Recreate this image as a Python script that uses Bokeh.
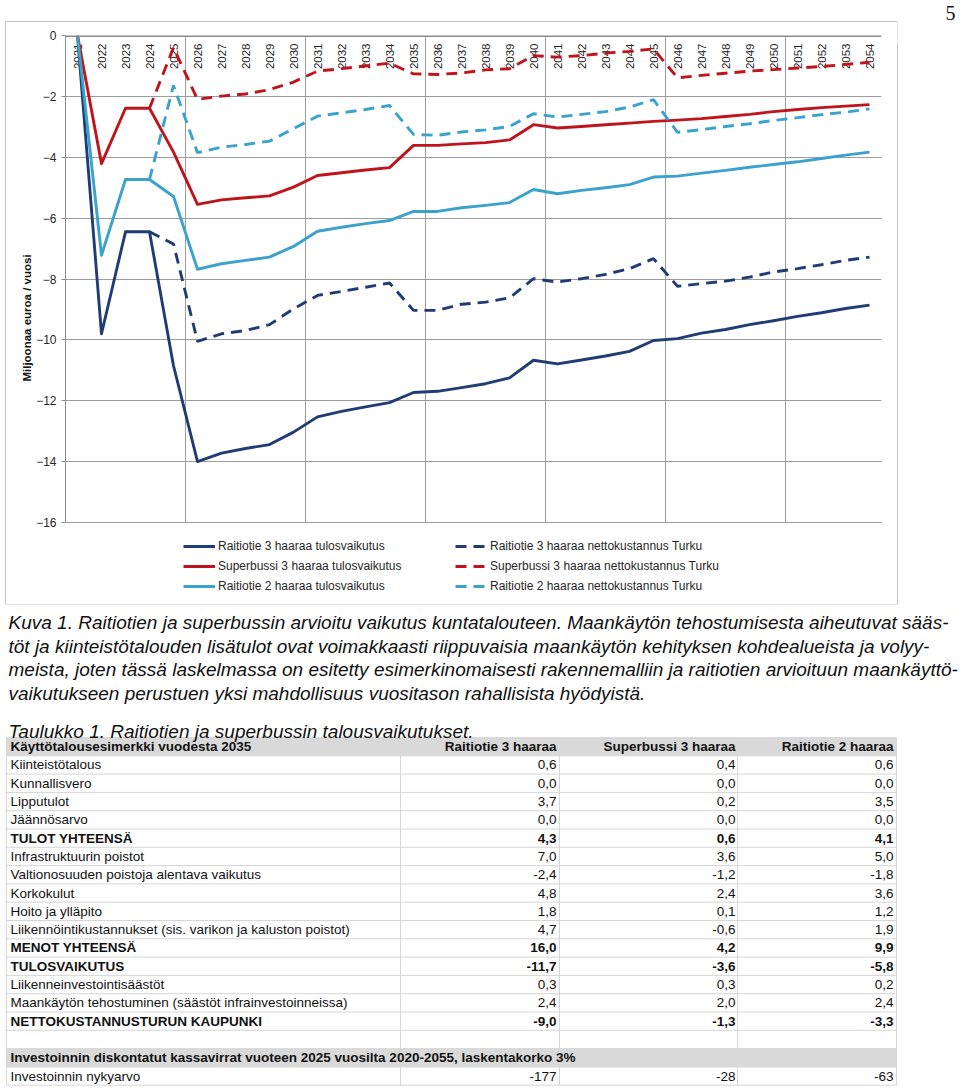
import numpy as np
from bokeh.plotting import figure
from bokeh.models import (Range1d, FixedTicker, Span, Legend, LegendItem, ColumnDataSource)
from bokeh.layouts import column, row
from bokeh.core.properties import value
from bokeh.embed import file_html
from bokeh.resources import INLINE

# ---------------- chart data ----------------
years = list(range(2021, 2055))
year_labels = [str(y) for y in years]
raitio3_tulos = [0.0, -9.8, -6.45, -6.45, -10.85, -14.0, -13.72, -13.57, -13.44, -13.03,
                 -12.53, -12.35, -12.2, -12.06, -11.73, -11.69, -11.57, -11.44, -11.25, -10.67,
                 -10.79, -10.66, -10.53, -10.38, -10.02, -9.96, -9.78, -9.66, -9.5, -9.37,
                 -9.23, -9.11, -8.97, -8.86]
superbussi3_tulos = [0.0, -4.21, -2.39, -2.39, -3.83, -5.55, -5.40, -5.33, -5.27, -4.98,
                     -4.6, -4.51, -4.42, -4.34, -3.61, -3.61, -3.56, -3.52, -3.43, -2.93,
                     -3.04, -2.99, -2.93, -2.88, -2.82, -2.78, -2.73, -2.66, -2.59, -2.5,
                     -2.43, -2.37, -2.32, -2.27]
raitio2_tulos = [0.0, -7.22, -4.73, -4.73, -5.29, -7.68, -7.5, -7.39, -7.28, -6.93,
                 -6.43, -6.3, -6.18, -6.08, -5.78, -5.78, -5.66, -5.58, -5.49, -5.06,
                 -5.2, -5.09, -5.0, -4.9, -4.65, -4.62, -4.52, -4.43, -4.33, -4.24,
                 -4.15, -4.04, -3.93, -3.83]
net_years = list(range(2024, 2055))
raitio3_netto = [-6.45, -6.85, -10.05, -9.8, -9.69, -9.5, -8.98, -8.54, -8.41, -8.27,
                 -8.13, -9.03, -9.03, -8.83, -8.76, -8.62, -7.99, -8.1, -7.99, -7.85,
                 -7.66, -7.33, -8.24, -8.15, -8.07, -7.94, -7.77, -7.66, -7.53, -7.39, -7.28]
superbussi3_netto = [-2.39, -0.4, -2.1, -1.99, -1.92, -1.78, -1.53, -1.17, -1.09, -1.0,
                     -0.91, -1.26, -1.28, -1.23, -1.13, -1.09, -0.66, -0.71, -0.66, -0.58,
                     -0.52, -0.44, -1.39, -1.31, -1.24, -1.17, -1.12, -1.07, -1.02, -0.95, -0.88]
raitio2_netto = [-4.73, -1.64, -3.85, -3.67, -3.58, -3.47, -3.06, -2.65, -2.54, -2.43,
                 -2.3, -3.25, -3.28, -3.17, -3.1, -2.99, -2.57, -2.68, -2.59, -2.5,
                 -2.35, -2.11, -3.18, -3.09, -2.99, -2.9, -2.79, -2.7, -2.6, -2.52, -2.41]
y_ticks = [0, -2, -4, -6, -8, -10, -12, -14, -16]
y_min, y_max = -16, 0
x_grid_ticks = [2025.5, 2030.5, 2035.5, 2040.5, 2045.5, 2050.5]

series_solid = [
    ("Raitiotie 3 haaraa tulosvaikutus", raitio3_tulos, "#1F3C74"),
    ("Superbussi 3 haaraa tulosvaikutus", superbussi3_tulos, "#C0141C"),
    ("Raitiotie 2 haaraa tulosvaikutus", raitio2_tulos, "#3AA2CB"),
]
series_dash = [
    ("Raitiotie 3 haaraa nettokustannus Turku", raitio3_netto, "#1F3C74"),
    ("Superbussi 3 haaraa nettokustannus Turku", superbussi3_netto, "#C0141C"),
    ("Raitiotie 2 haaraa nettokustannus Turku", raitio2_netto, "#3AA2CB"),
]

# ---------------- text / table data ----------------
page_number = "5"
caption_lines = [
    "Kuva 1. Raitiotien ja superbussin arvioitu vaikutus kuntatalouteen. Maankäytön tehostumisesta aiheutuvat sääs-",
    "töt ja kiinteistötalouden lisätulot ovat voimakkaasti riippuvaisia maankäytön kehityksen kohdealueista ja volyy-",
    "meista, joten tässä laskelmassa on esitetty esimerkinomaisesti rakennemalliin ja raitiotien arvioituun maankäyttö-",
    "vaikutukseen perustuen yksi mahdollisuus vuositason rahallisista hyödyistä.",
]
table_title = "Taulukko 1. Raitiotien ja superbussin talousvaikutukset."
table_header = "Käyttötalousesimerkki vuodesta 2035"
col_headers = ["Raitiotie 3 haaraa", "Superbussi 3 haaraa", "Raitiotie 2 haaraa"]
row_labels = ["Kiinteistötalous", "Kunnallisvero", "Lipputulot", "Jäännösarvo", "TULOT YHTEENSÄ",
              "Infrastruktuurin poistot", "Valtionosuuden poistoja alentava vaikutus", "Korkokulut",
              "Hoito ja ylläpito", "Liikennöintikustannukset (sis. varikon ja kaluston poistot)",
              "MENOT YHTEENSÄ", "TULOSVAIKUTUS", "Liikenneinvestointisäästöt",
              "Maankäytön tehostuminen (säästöt infrainvestoinneissa)", "NETTOKUSTANNUSTURUN KAUPUNKI"]
bold_rows = [4, 10, 11, 14]
col_raitio3 = [0.6, 0.0, 3.7, 0.0, 4.3, 7.0, -2.4, 4.8, 1.8, 4.7, 16.0, -11.7, 0.3, 2.4, -9.0]
col_superbussi3 = [0.4, 0.0, 0.2, 0.0, 0.6, 3.6, -1.2, 2.4, 0.1, -0.6, 4.2, -3.6, 0.3, 2.0, -1.3]
col_raitio2 = [0.6, 0.0, 3.5, 0.0, 4.1, 5.0, -1.8, 3.6, 1.2, 1.9, 9.9, -5.8, 0.2, 2.4, -3.3]
invest_header = "Investoinnin diskontatut kassavirrat vuoteen 2025 vuosilta 2020-2055, laskentakorko 3%"
invest_label = "Investoinnin nykyarvo"
invest_values = [-177, -28, -63]

FONT = "Liberation Sans"
GRID = "#9c9c9c"

# ---------------- chart figure (its canvas is the framed chart box) ----------------
PLOT_H = 487      # pixel height of the -16..0 value band
FRAME_H = 565     # frame also holds the legend strip below the plot band
y_lo = y_min * FRAME_H / PLOT_H

p = figure(width=891, height=582, x_range=Range1d(2020.5, 2054.5), y_range=Range1d(y_lo, y_max),
           min_border_left=59, min_border_right=16, min_border_top=13, min_border_bottom=4,
           x_axis_location=None, output_backend="svg", toolbar_location=None,
           frame_align=False, margin=(22, 0, 0, 6),
           styles={"outline": "1.5px solid #c4c4c4"})
p.outline_line_color = None
p.background_fill_color = "white"
p.border_fill_color = "white"

p.yaxis.bounds = (y_min, y_max)
p.yaxis.ticker = FixedTicker(ticks=y_ticks)
p.yaxis.axis_label = "Miljoonaa euroa / vuosi"
p.yaxis.axis_label_text_font = FONT
p.yaxis.axis_label_text_font_style = "bold"
p.yaxis.axis_label_text_font_size = "11.5px"
p.yaxis.axis_label_text_color = "#111111"
p.yaxis.axis_label_standoff = 0
p.yaxis.major_label_text_font = FONT
p.yaxis.major_label_text_font_size = "12px"
p.yaxis.major_label_text_color = "#262626"
p.yaxis.major_label_standoff = 5
p.yaxis.axis_line_color = "#8c8c8c"
p.yaxis.major_tick_line_color = "#8c8c8c"
p.yaxis.major_tick_out = 4
p.yaxis.major_tick_in = 0
p.yaxis.minor_tick_line_color = None

p.ygrid.ticker = FixedTicker(ticks=y_ticks)
p.ygrid.grid_line_color = GRID
p.xgrid.visible = False
# vertical gridlines every five categories, limited to the value band
p.segment(x0=x_grid_ticks, x1=x_grid_ticks, y0=[y_min] * len(x_grid_ticks),
          y1=[y_max] * len(x_grid_ticks), line_color=GRID, line_width=1)

p.add_layout(Span(location=y_max, dimension="width", line_color="#8c8c8c", line_width=3))

# year labels inside the plot, under the top axis line
p.text(x=years, y=[y_max] * len(years), text=year_labels, angle=np.pi / 2,
       text_align="right", text_baseline="middle", y_offset=8,
       text_font=value(FONT), text_font_size="11.5px", text_color="#262626")

solid_pairs = []
for name, vals, col in series_solid:
    r = p.line(years, vals, line_color=col, line_width=2.9, line_join="round")
    solid_pairs.append((name, r))
dash_pairs = []
for name, vals, col in series_dash:
    r = p.line(net_years, vals, line_color=col, line_width=2.9, line_dash="11 7")
    dash_pairs.append((name, r))

def make_legend(pairs, loc):
    return Legend(items=[LegendItem(label=n, renderers=[r]) for n, r in pairs],
                  location=loc, orientation="vertical", padding=0, margin=0, spacing=0,
                  glyph_width=32, glyph_height=20, label_height=20, label_standoff=3,
                  label_text_font=FONT, label_text_font_size="12px", label_text_color="#262626",
                  background_fill_alpha=0, border_line_color=None)

p.add_layout(make_legend(solid_pairs, (118, 4)), "center")
p.add_layout(make_legend(dash_pairs, (390, 4)), "center")

# ---------------- page number ----------------
pn = figure(width=63, height=44, x_range=Range1d(897, 960), y_range=Range1d(44, 0),
            min_border=0, x_axis_location=None, y_axis_location=None,
            output_backend="svg", toolbar_location=None, frame_align=False)
pn.outline_line_color = None
pn.grid.visible = False
pn.text(x=[955], y=[12], text=[page_number], text_align="right", text_baseline="middle",
        text_font=value("Liberation Serif"), text_font_size="20px", text_color="#111111")

# ---------------- page figure (caption + table) ----------------
q = figure(width=960, height=482, x_range=Range1d(0, 960), y_range=Range1d(1086, 604),
           min_border=0, x_axis_location=None, y_axis_location=None,
           output_backend="svg", toolbar_location=None, frame_align=False)
q.outline_line_color = None
q.grid.visible = False
q.background_fill_color = "white"
q.border_fill_color = "white"

row_h = 18.3
top0 = 737
n_rows = 19
tab_left, tab_right = 6, 896
col_div = [6, 400, 559, 737, 896]
num_x = [556, 735, 893]
bounds = [top0 + i * row_h for i in range(n_rows + 1)]
centers = [top0 + (i + 0.5) * row_h for i in range(n_rows)]

q.segment(x0=[tab_left] * len(bounds), x1=[tab_right] * len(bounds), y0=bounds, y1=bounds,
          line_color="#d6d6d6", line_width=1)
q.segment(x0=col_div, x1=col_div, y0=[bounds[0]] * len(col_div), y1=[bounds[-1]] * len(col_div),
          line_color="#d6d6d6", line_width=1)
gray_rows = [0, 17]
q.quad(left=[tab_left] * 2, right=[tab_right] * 2,
       top=[bounds[i] for i in gray_rows], bottom=[bounds[i + 1] for i in gray_rows],
       fill_color="#d9d9d9", line_color=None)

cap_base = [622, 645.5, 669, 692.5]
q.text(x=[8] * len(caption_lines), y=cap_base, text=caption_lines,
       text_align="left", text_baseline="alphabetic", text_font=value(FONT),
       text_font_style="italic", text_font_size="19px", text_color="#111111")
q.text(x=[8], y=[731], text=[table_title], text_align="left", text_baseline="alphabetic",
       text_font=value(FONT), text_font_style="italic", text_font_size="19px", text_color="#111111")

def fmt(v):
    return f"{v:.1f}".replace(".", ",")

norm_l = dict(x=[], y=[], t=[])
bold_l = dict(x=[], y=[], t=[])
norm_r = dict(x=[], y=[], t=[])
bold_r = dict(x=[], y=[], t=[])

def add(d, x, y, t):
    d["x"].append(x); d["y"].append(y); d["t"].append(t)

add(bold_l, 10, centers[0], table_header)
for k, h in enumerate(col_headers):
    add(bold_r, num_x[k], centers[0], h)
for i, lab in enumerate(row_labels):
    yc = centers[i + 1]
    b = i in bold_rows
    add(bold_l if b else norm_l, 10, yc, lab)
    for k, colv in enumerate([col_raitio3, col_superbussi3, col_raitio2]):
        add(bold_r if b else norm_r, num_x[k], yc, fmt(colv[i]))
add(bold_l, 10, centers[17], invest_header)
add(norm_l, 10, centers[18], invest_label)
for k, v in enumerate(invest_values):
    add(norm_r, num_x[k], centers[18], str(v))

for d, align, style in [(norm_l, "left", "normal"), (bold_l, "left", "bold"),
                        (norm_r, "right", "normal"), (bold_r, "right", "bold")]:
    q.text(x="x", y="y", text="t", source=ColumnDataSource(d), text_align=align,
           text_baseline="middle", text_font=value(FONT), text_font_style=style,
           text_font_size="13.5px", text_color="#111111")

layout = column(row(p, pn, spacing=0), q, spacing=0)
open("out.html", "w").write(file_html(layout, INLINE))
